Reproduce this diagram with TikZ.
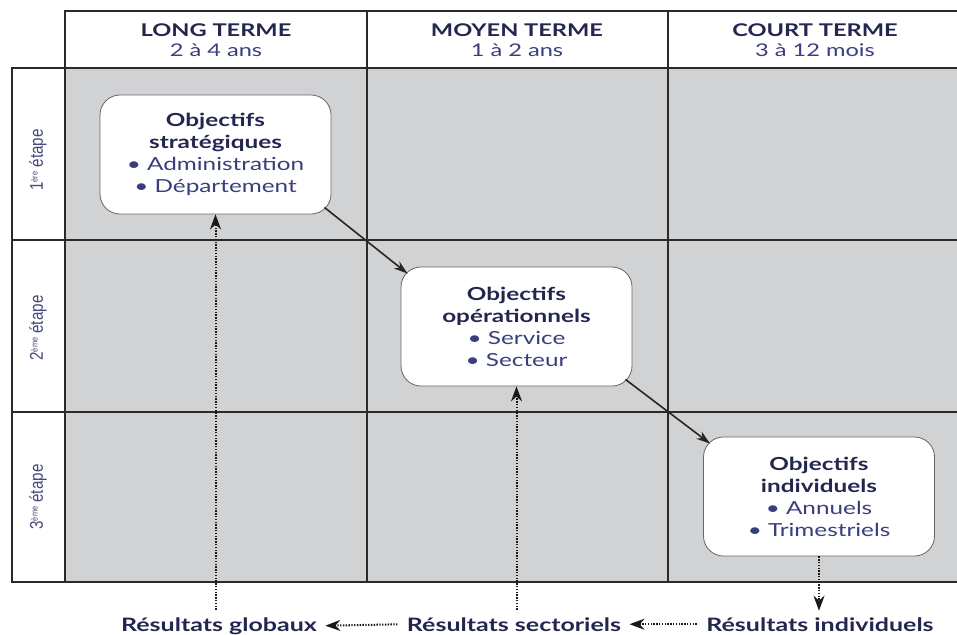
\documentclass[tikz,border=0pt]{standalone}
\usepackage{fontspec}
\setmainfont[FakeStretch=1.35]{Lato}
\newfontfamily\sidefont[FakeStretch=0.82]{Liberation Sans}
\usetikzlibrary{arrows.meta,calc}
\definecolor{cellgray}{HTML}{D1D2D4}
\definecolor{inkbold}{HTML}{23264F}
\definecolor{inkreg}{HTML}{3A3E7C}
\definecolor{gridline}{HTML}{2A2A2A}
\newcommand\hd[1]{{\bfseries\color{inkbold}#1}}
\newcommand\sidesup[1]{\raisebox{0.55ex}{\fontsize{9}{9}\selectfont #1}}
\tikzset{
  gridrule/.style={draw=gridline, line width=1.7pt},
  objbox/.style={draw=gray!80!black, line width=0.8pt, fill=white, rounded corners=20pt,
    minimum width=231pt, minimum height=119pt, align=center, inner sep=0pt,
    font=\fontsize{18}{22}\selectfont, text=inkreg},
  headtext/.style={align=center, font=\fontsize{17.5}{20}\selectfont, text=inkreg},
  sidetext/.style={rotate=90, font=\sidefont\fontsize{18.5}{20}\selectfont, text=inkreg!85!gray},
  restext/.style={anchor=base, font=\bfseries\fontsize{18.5}{20}\selectfont, text=inkbold},
  flowarrow/.style={draw=black!85, line width=1.6pt, -{Stealth[length=14pt,width=9pt]}},
  dotarrow/.style={draw=black!90, line width=2pt, dash pattern=on 1.4pt off 1.4pt,
    -{Stealth[length=15pt,width=11pt]}},
}
\begin{document}
\begin{tikzpicture}[x=1pt,y=-1pt]
\useasboundingbox (0,0) rectangle (957,634);
\begin{scope}
\clip (0,0) rectangle (957,634);
% shaded body of the grid
\fill[cellgray] (65,68) rectangle (962,582);
% header strip and step column
\draw[gridrule] (962,11) -- (65,11) -- (65,582);
\draw[gridrule] (65,68) -- (12,68) -- (12,582) -- (962,582);
\draw[gridrule] (65,68) -- (962,68);
% inner grid lines
\draw[gridrule] (12,240) -- (962,240);
\draw[gridrule] (12,412) -- (962,412);
\draw[gridrule] (367,11) -- (367,582);
\draw[gridrule] (668,11) -- (668,582);
\end{scope}

% column headers
\node[headtext] (h1) at (216,40) {\hd{LONG TERME}\\2 à 4 ans};
\node[headtext] (h2) at (517,40) {\hd{MOYEN TERME}\\1 à 2 ans};
\node[headtext] (h3) at (815,40) {\hd{COURT TERME}\\3 à 12 mois};

% step labels
\node[sidetext] (e1) at (38,160) {1\sidesup{ère} étape};
\node[sidetext] (e2) at (38,328) {2\sidesup{ème} étape};
\node[sidetext] (e3) at (38,497) {3\sidesup{ème} étape};

% objective boxes
\node[objbox] (b1) at (215.5,154.5) {\hd{Objectifs}\\\hd{stratégiques}\\• Administration\\• Département};
\node[objbox] (b2) at (516.5,326.5) {\hd{Objectifs}\\\hd{opérationnels}\\• Service\\• Secteur};
\node[objbox] (b3) at (819,496.5) {\hd{Objectifs}\\\hd{individuels}\\• Annuels\\• Trimestriels};

% result labels
\node[restext] (g) at (219,631) {Résultats globaux};
\node[restext] (s) at (514,631) {Résultats sectoriels};
\node[restext] (i) at (820,631) {Résultats individuels};

% cascade of objectives
\draw[flowarrow] ($(b1.south east)+(-7,-7)$) -- ($(b2.north west)+(7,7)$);
\draw[flowarrow] ($(b2.south east)+(-7,-7)$) -- ($(b3.north west)+(7,7)$);

% feedback of results
\draw[dotarrow] ($(b1.south |- g.north)+(0,-4)$) -- (b1.south);
\draw[dotarrow] ($(b2.south |- s.north)+(0,-4)$) -- (b2.south);
\draw[dotarrow] (b3.south) -- ($(b3.south |- i.north)+(0,-3)$);
\draw[dotarrow, shorten <=6pt, shorten >=5pt] (i.west |- i.center) -- (s.east |- s.center);
\draw[dotarrow, shorten <=6pt, shorten >=5pt] (s.west |- s.center) -- (g.east |- g.center);
\end{tikzpicture}
\end{document}
